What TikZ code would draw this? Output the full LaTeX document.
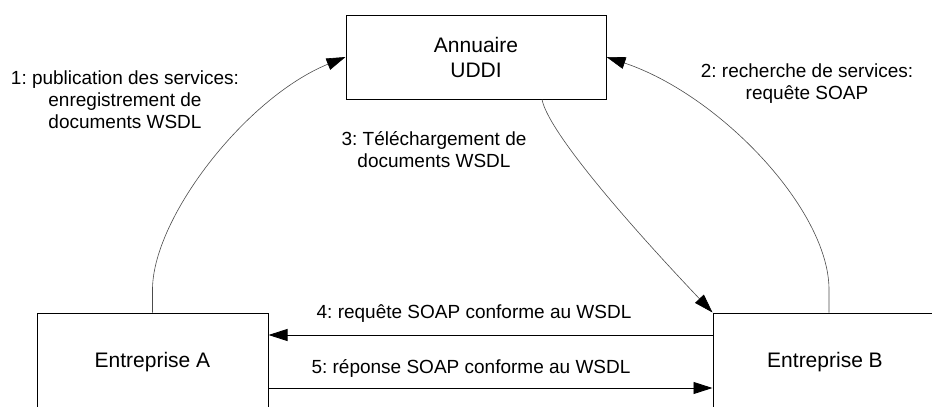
\documentclass[tikz,border=0pt]{standalone}
\usepackage{fontspec}
\setmainfont{Liberation Sans}
\usetikzlibrary{arrows.meta, positioning, calc}

\begin{document}
\frenchspacing
\begin{tikzpicture}[x=1pt, y=-1pt,
      boite/.style={draw, line width=1pt, rectangle, inner sep=0pt, align=center,
                    font=\fontsize{21}{25}\selectfont},
      etiq/.style={align=center, font=\fontsize{19}{22}\selectfont},
      lien/.style={-{Triangle[length=19pt, width=12pt, color=black]},
                   draw=black!70, line width=0.6pt},
      msg/.style={->, line width=0.9pt},
      >={Triangle[length=19pt, width=12pt]}]
    \clip (0,0) rectangle (932,407);
    % les trois acteurs
    \node[boite, minimum width=260pt, minimum height=84pt] (UDDI) at (476,57) {Annuaire\\UDDI};
    \node[boite, minimum width=231pt, minimum height=98pt] (EA) at (152.5,362) {Entreprise A};
    \node[boite, minimum width=224pt, minimum height=98pt] (EB) at (825,362) {Entreprise B};
    % echanges avec l'annuaire
    \draw[lien] (EA.north) -- ++(0,-21) .. controls (151,220) and (245,98) .. (UDDI.west);
    \draw[lien] ([xshift=4pt]EB.north) -- ++(0,-23) .. controls (829,210) and (720,95) .. (UDDI.east);
    \draw[lien] ([xshift=66pt]UDDI.south) .. controls (548,130) and (620,215) .. (EB.north west);
    % echanges SOAP
    \draw[msg] ([yshift=27pt]EB.west) -- ([yshift=27pt]EA.east);
    \draw[msg] ([yshift=-26pt]EA.east) -- ([yshift=-26pt]EB.west);
    \node[etiq] (l1) at (125,100) {1: publication des services:\\enregistrement de\\documents WSDL};
    \node[etiq] (l2) at (807,84) {2: recherche de services:\\requête SOAP};
    \node[etiq] (l3) at (434,150) {3: Téléchargement de\\documents WSDL};
    \node[etiq] (l4) at (474,314) {4: requête SOAP conforme au WSDL};
    \node[etiq] (l5) at (471,368) {5: réponse SOAP conforme au WSDL};
  \end{tikzpicture}
\end{document}
